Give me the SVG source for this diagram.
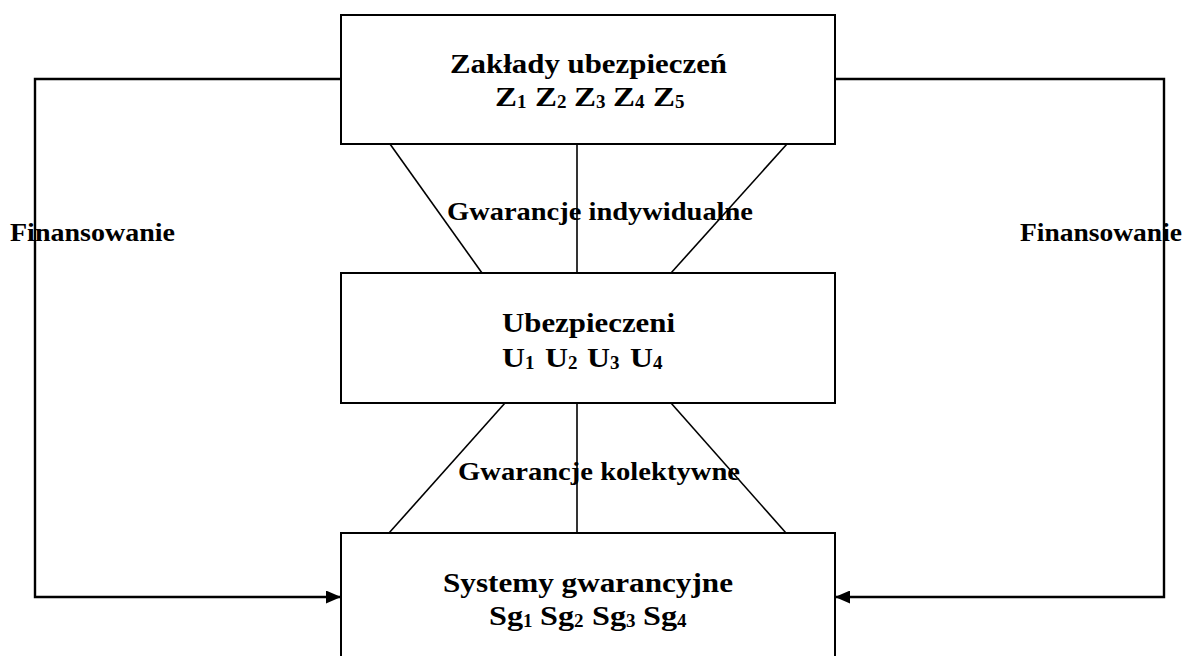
<svg xmlns="http://www.w3.org/2000/svg" width="1191" height="656" viewBox="0 0 1191 656">
<style>
.box{fill:#fff;stroke:#000;stroke-width:2}
.ln{fill:none;stroke:#000;stroke-width:1.6}
.ar{fill:none;stroke:#000;stroke-width:2.4}
text{font-family:"Liberation Serif","Times New Roman",serif;font-weight:bold;fill:#000}
.t{font-size:28px}
.lb{font-size:26px}
.sub{font-size:19px}
</style>
<defs>
<marker id="ah" markerWidth="15" markerHeight="13" refX="14" refY="6.5" orient="auto" markerUnits="userSpaceOnUse">
<path d="M0,0 L15,6.5 L0,13 z" fill="#000"/>
</marker>
</defs>
<rect width="1191" height="656" fill="#fff"/>
<g id="connectors">
<line class="ln" x1="390" y1="144" x2="482" y2="273"/>
<line class="ln" x1="577" y1="144" x2="577" y2="273"/>
<line class="ln" x1="787" y1="144" x2="671" y2="273"/>
<line class="ln" x1="505" y1="403" x2="389" y2="533"/>
<line class="ln" x1="577" y1="403" x2="577" y2="533"/>
<line class="ln" x1="671" y1="403" x2="786" y2="533"/>
<polyline class="ar" points="341,79 35,79 35,597 340,597" marker-end="url(#ah)"/>
<polyline class="ar" points="835,79 1164,79 1164,597 836,597" marker-end="url(#ah)"/>
</g>
<g id="node-zaklady">
<rect class="box" x="341" y="15" width="494" height="129"/>
<text class="t" x="450" y="73" textLength="277" lengthAdjust="spacingAndGlyphs">Zakłady ubezpieczeń</text>
<text class="t" x="495" y="106"><tspan textLength="22" lengthAdjust="spacingAndGlyphs">Z</tspan><tspan class="sub" dy="2">1</tspan></text>
<text class="t" x="535" y="106"><tspan textLength="22" lengthAdjust="spacingAndGlyphs">Z</tspan><tspan class="sub" dy="2">2</tspan></text>
<text class="t" x="574" y="106"><tspan textLength="22" lengthAdjust="spacingAndGlyphs">Z</tspan><tspan class="sub" dy="2">3</tspan></text>
<text class="t" x="613" y="106"><tspan textLength="22" lengthAdjust="spacingAndGlyphs">Z</tspan><tspan class="sub" dy="2">4</tspan></text>
<text class="t" x="653" y="106"><tspan textLength="22" lengthAdjust="spacingAndGlyphs">Z</tspan><tspan class="sub" dy="2">5</tspan></text>
</g>
<g id="node-ubezpieczeni">
<rect class="box" x="341" y="273" width="494" height="130"/>
<text class="t" x="502" y="332" textLength="173" lengthAdjust="spacingAndGlyphs">Ubezpieczeni</text>
<text class="t" x="502" y="367"><tspan textLength="23" lengthAdjust="spacingAndGlyphs">U</tspan><tspan class="sub" dy="2">1</tspan></text>
<text class="t" x="545" y="367"><tspan textLength="23" lengthAdjust="spacingAndGlyphs">U</tspan><tspan class="sub" dy="2">2</tspan></text>
<text class="t" x="587" y="367"><tspan textLength="23" lengthAdjust="spacingAndGlyphs">U</tspan><tspan class="sub" dy="2">3</tspan></text>
<text class="t" x="630" y="367"><tspan textLength="23" lengthAdjust="spacingAndGlyphs">U</tspan><tspan class="sub" dy="2">4</tspan></text>
</g>
<g id="node-systemy">
<rect class="box" x="341" y="533" width="494" height="140"/>
<text class="t" x="443" y="592" textLength="290" lengthAdjust="spacingAndGlyphs">Systemy gwarancyjne</text>
<text class="t" x="489" y="625"><tspan textLength="34" lengthAdjust="spacingAndGlyphs">Sg</tspan><tspan class="sub" dy="2">1</tspan></text>
<text class="t" x="540" y="625"><tspan textLength="34" lengthAdjust="spacingAndGlyphs">Sg</tspan><tspan class="sub" dy="2">2</tspan></text>
<text class="t" x="592" y="625"><tspan textLength="34" lengthAdjust="spacingAndGlyphs">Sg</tspan><tspan class="sub" dy="2">3</tspan></text>
<text class="t" x="643" y="625"><tspan textLength="34" lengthAdjust="spacingAndGlyphs">Sg</tspan><tspan class="sub" dy="2">4</tspan></text>
</g>
<g id="labels">
<text class="lb" x="447" y="220" textLength="306" lengthAdjust="spacingAndGlyphs">Gwarancje indywidualne</text>
<text class="lb" x="458" y="480" textLength="282" lengthAdjust="spacingAndGlyphs">Gwarancje kolektywne</text>
<text class="lb" x="10" y="241" textLength="165" lengthAdjust="spacingAndGlyphs">Finansowanie</text>
<text class="lb" x="1020" y="241" textLength="162" lengthAdjust="spacingAndGlyphs">Finansowanie</text>
</g>
</svg>
